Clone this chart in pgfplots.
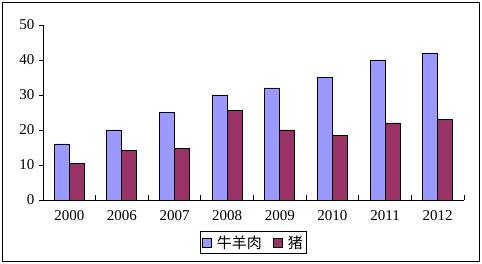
\documentclass[border=0pt]{standalone}
\usepackage{pgfplots}
\pgfplotsset{compat=1.18}
\usepackage{fontspec}
\setmainfont{Liberation Serif}
\newfontfamily\cjk{Noto Sans CJK SC}
\definecolor{cblue}{HTML}{9999FF}
\definecolor{cred}{HTML}{993366}
\begin{document}
\begin{tikzpicture}
\useasboundingbox (0,0) rectangle (482pt,264pt);
\draw[line width=1pt] (2.5pt,2.5pt) rectangle (479.5pt,261.5pt);
\begin{axis}[
  at={(43pt,64pt)}, anchor=south west,
  scale only axis, width=421pt, height=175pt,
  xmin=-0.5, xmax=7.5, ymin=0, ymax=50,
  axis lines*=left,
  axis line style={line width=0.9pt},
  ybar=0pt, bar width=15pt,
  xtick={0,...,7},
  xticklabels={2000,2006,2007,2008,2009,2010,2011,2012},
  minor xtick={-0.5,0.5,...,7.5},
  ytick={0,10,...,50},
  tick align=inside,
  major tick length=4pt, minor tick length=5pt,
  major x tick style={draw=none},
  minor x tick style={line width=0.9pt, black},
  major y tick style={line width=0.9pt, black, xshift=-4pt},
  /pgf/number format/assume math mode=true,
  /pgf/number format/1000 sep={},
  tick label style={font=\fontsize{15}{17}\selectfont},
  yticklabel style={xshift=-5pt},
  xticklabel style={yshift=-7pt},
  legend columns=2,
  legend style={at={(0.5,-0.243)}, anchor=center, draw=black, line width=0.9pt,
    font=\fontsize{15}{17}\selectfont, inner sep=2pt,
    /tikz/every odd column/.append style={column sep=3pt},
    /tikz/every even column/.append style={column sep=9pt}},
  legend image code/.code={\draw[#1, line width=0.8pt] (0pt,-4.5pt) rectangle (9pt,4.5pt);},
]
\addplot[fill=cblue, draw=black, line width=0.9pt] coordinates {(0,16) (1,20) (2,25) (3,30) (4,32) (5,35) (6,40) (7,42)};
\addplot[fill=cred, draw=black, line width=0.9pt] coordinates {(0,10.5) (1,14.2) (2,14.8) (3,25.6) (4,20) (5,18.5) (6,22) (7,23)};
\legend{{\cjk 牛羊肉},{\cjk 猪}}
\end{axis}
\end{tikzpicture}
\end{document}
